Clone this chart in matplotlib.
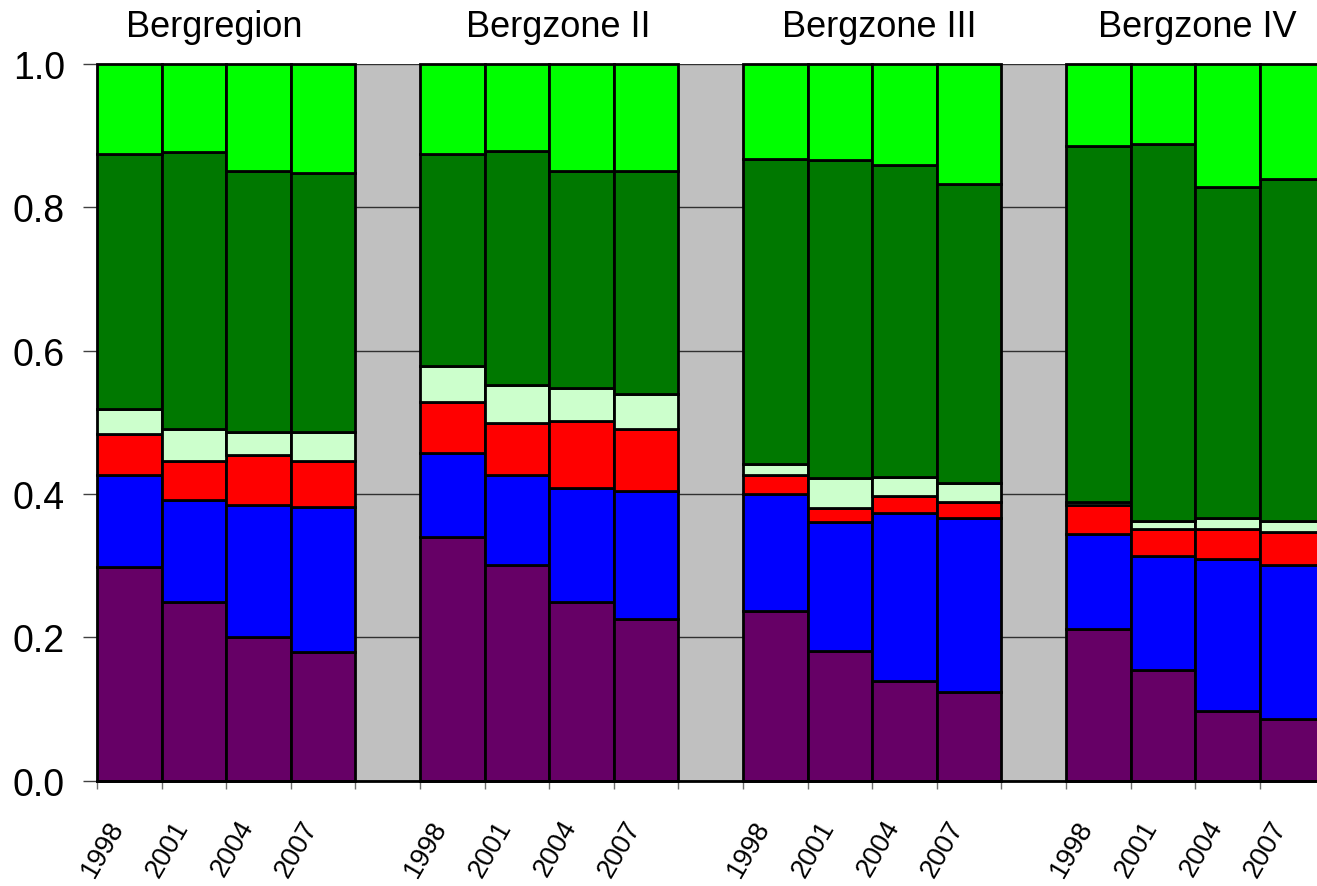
import matplotlib
matplotlib.use('Agg')
import matplotlib.pyplot as plt
import numpy as np

plt.rcParams['font.family'] = ['Liberation Sans', 'DejaVu Sans']

groups = ['Bergregion', 'Bergzone II', 'Bergzone III', 'Bergzone IV']
years = ['1998', '2001', '2004', '2007']

# shares per layer (bottom to top), 4 groups x 4 years
purple = [0.298, 0.249, 0.200, 0.180,
          0.340, 0.301, 0.249, 0.226,
          0.237, 0.181, 0.139, 0.124,
          0.211, 0.154, 0.097, 0.086]
blue = [0.129, 0.143, 0.185, 0.202,
        0.117, 0.126, 0.159, 0.178,
        0.163, 0.180, 0.235, 0.242,
        0.133, 0.159, 0.213, 0.215]
red = [0.057, 0.054, 0.069, 0.064,
       0.072, 0.072, 0.094, 0.087,
       0.027, 0.020, 0.023, 0.023,
       0.040, 0.038, 0.041, 0.046]
lightgreen = [0.034, 0.045, 0.033, 0.041,
              0.049, 0.053, 0.046, 0.049,
              0.015, 0.042, 0.027, 0.026,
              0.005, 0.011, 0.015, 0.015]
darkgreen = [0.356, 0.386, 0.364, 0.361,
             0.296, 0.326, 0.303, 0.311,
             0.425, 0.443, 0.435, 0.417,
             0.496, 0.527, 0.463, 0.477]
brightgreen = [0.126, 0.123, 0.149, 0.152,
               0.126, 0.122, 0.149, 0.149,
               0.133, 0.134, 0.141, 0.168,
               0.115, 0.111, 0.171, 0.161]

layers = [purple, blue, red, lightgreen, darkgreen, brightgreen]
colors = ['#660066', '#0000FF', '#FF0000', '#CCFFCC', '#007800', '#00FF00']

title_pos = [1.31, 6.64, 11.61, 16.53]

fig = plt.figure(figsize=(13.17, 8.87), dpi=100)
ax = fig.add_axes([97 / 1317, 105.3 / 887, 1227.4 / 1317, 716.7 / 887])
ax.set_facecolor('#C0C0C0')

x = np.array([g * 5 + i for g in range(len(groups)) for i in range(len(years))])
labels = [y for g in groups for y in years]

bottom = np.zeros(len(x))
for vals, col in zip(layers, colors):
    vals = np.array(vals)
    ax.bar(x, vals, width=1.0, bottom=bottom, color=col, edgecolor='black',
           linewidth=2.0, zorder=3, clip_on=False)
    bottom += vals

ax.set_xlim(-0.5, 18.5)
ax.set_ylim(0, 1.0)

yt = [0.0, 0.2, 0.4, 0.6, 0.8, 1.0]
ax.set_yticks(yt)
ax.set_yticklabels(['{:.1f}'.format(v) for v in yt])
ax.tick_params(axis='y', length=10, width=1, color='#404040', pad=13, labelsize=27)

ax.set_xticks(x)
ax.set_xticklabels(labels, rotation=60, ha='right', va='top')
ax.set_xticks(np.arange(-0.5, 19.0, 1.0), minor=True)
ax.tick_params(axis='x', which='major', length=0, pad=25, labelsize=19.5)
ax.tick_params(axis='x', which='minor', length=6, width=1, color='#707070')

ax.yaxis.grid(True, color='#303030', linewidth=1)
ax.set_axisbelow(True)

ax.spines['top'].set_visible(False)
ax.spines['right'].set_visible(False)
ax.spines['left'].set_color('#808080')
ax.spines['left'].set_linewidth(1)
ax.spines['bottom'].set_color('black')
ax.spines['bottom'].set_linewidth(2.0)
ax.spines['bottom'].set_zorder(4)

for name, pos in zip(groups, title_pos):
    ax.text(pos, 1.039, name, ha='center', va='baseline', fontsize=26,
            transform=ax.transData, clip_on=False)

fig.savefig('out.png', dpi=100)
